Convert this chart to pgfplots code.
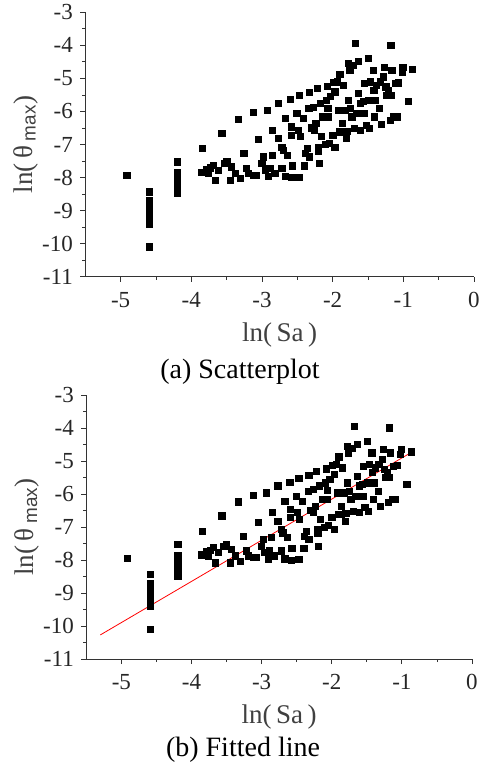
\documentclass[border=0pt]{standalone}
\usepackage{fontspec}
\setmainfont{Liberation Serif}
\setsansfont{Liberation Sans}
\usepackage{pgfplots}
\usepackage{pgfplotstable}
\pgfplotsset{compat=1.18}
\pgfplotstableread{
x y
-4.915 -7.94
-4.594 -8.43
-4.594 -8.70
-4.594 -8.82
-4.594 -9.02
-4.594 -9.15
-4.594 -9.28
-4.594 -9.40
-4.594 -10.09
-4.198 -7.52
-4.198 -7.85
-4.198 -7.97
-4.198 -8.10
-4.198 -8.22
-4.198 -8.34
-4.198 -8.48
-3.849 -7.12
-3.86 -7.84
-3.79 -7.75
-3.736 -7.70
-3.76 -7.87
-3.69 -7.62
-3.665 -8.08
-3.62 -7.77
-3.57 -6.66
-3.54 -7.57
-3.50 -7.52
-3.43 -7.67
-3.45 -8.08
-3.38 -7.87
-3.335 -6.23
-3.31 -8.03
-3.26 -7.27
-3.22 -7.72
-3.19 -7.87
-3.12 -6.03
-3.12 -7.92
-3.08 -7.92
-3.05 -6.85
-3.005 -7.57
-2.98 -7.37
-2.96 -7.77
-2.93 -5.96
-2.91 -7.96
-2.89 -7.72
-2.86 -7.32
-2.85 -6.56
-2.82 -7.87
-2.77 -5.75
-2.77 -6.82
-2.72 -7.07
-2.72 -7.72
-2.70 -7.17
-2.67 -6.21
-2.67 -7.96
-2.64 -7.32
-2.60 -5.63
-2.59 -6.46
-2.59 -6.71
-2.58 -8.0
-2.57 -7.64
-2.51 -6.06
-2.49 -6.56
-2.47 -5.52
-2.47 -7.98
-2.46 -6.76
-2.42 -6.21
-2.40 -7.64
-2.39 -7.27
-2.36 -7.12
-2.34 -5.91
-2.33 -5.42
-2.33 -7.37
-2.30 -6.49
-2.27 -5.86
-2.26 -6.56
-2.24 -6.36
-2.22 -5.30
-2.20 -7.19
-2.20 -7.07
-2.19 -7.57
-2.18 -5.75
-2.16 -6.76
-2.14 -6.16
-2.11 -7.00
-2.09 -5.66
-2.08 -5.23
-2.07 -5.89
-2.06 -6.16
-2.05 -6.95
-2.03 -5.55
-2.00 -6.71
-1.99 -5.12
-1.97 -7.07
-1.97 -5.40
-1.94 -5.10
-1.92 -5.96
-1.91 -6.61
-1.90 -4.87
-1.87 -6.61
-1.86 -6.36
-1.85 -5.20
-1.83 -5.96
-1.81 -6.82
-1.80 -6.59
-1.78 -4.54
-1.78 -5.66
-1.76 -4.75
-1.755 -5.91
-1.73 -6.16
-1.71 -4.61
-1.68 -3.94
-1.69 -6.51
-1.67 -6.06
-1.64 -5.45
-1.64 -4.49
-1.61 -6.56
-1.61 -5.75
-1.57 -5.70
-1.56 -6.06
-1.55 -5.15
-1.53 -6.41
-1.50 -4.39
-1.50 -5.66
-1.48 -6.51
-1.47 -5.10
-1.43 -4.75
-1.42 -5.35
-1.41 -6.16
-1.40 -5.66
-1.38 -5.20
-1.34 -5.91
-1.33 -5.10
-1.31 -6.38
-1.28 -4.95
-1.27 -4.65
-1.25 -5.25
-1.24 -5.50
-1.21 -5.35
-1.19 -6.26
-1.18 -3.99
-1.18 -5.50
-1.165 -4.75
-1.14 -6.16
-1.12 -5.15
-1.09 -6.16
-1.07 -5.13
-1.02 -4.80
-1.01 -4.65
-0.93 -5.70
-0.87 -4.72
}\scatterdata
\pgfplotsset{
  myaxis/.style={
    scale only axis,
    xmin=-5.5, xmax=0, ymin=-11, ymax=-3,
    axis x line*=bottom, axis y line*=left,
    axis line style={line width=1bp, black!80},
    xtick={-5,-4,-3,-2,-1,0},
    ytick={-11,-10,-9,-8,-7,-6,-5,-4,-3},
    minor x tick num=1, minor y tick num=1,
    tick align=outside,
    major tick length=5bp, minor tick length=3bp,
    tick style={line width=0.8bp, black!80},
    /pgf/number format/assume math mode=true,
    tick label style={font=\fontsize{23bp}{25bp}\selectfont, color=black!85},
    xticklabel style={yshift=-7bp},
    yticklabel style={xshift=-4bp},
    xlabel={ln(\,Sa\,)},
    ylabel={ln(\,θ\,\textsubscript{\sffamily max})},
    label style={font=\fontsize{27bp}{29bp}\selectfont, color=black!75},
    xlabel style={at={(axis description cs:0.5,0)}, anchor=center, yshift=-58bp},
    ylabel style={at={(axis description cs:-0.154,0.5)}, anchor=center},
  }
}
\begin{document}
\begin{tikzpicture}
\useasboundingbox (0,0) rectangle (481bp,-770bp);
\begin{axis}[myaxis, width=388.7bp, height=264.4bp,
  at={(85.3bp,-276.7bp)}, anchor=south west]
\addplot[only marks, mark=square*, mark size=3.1bp, black] table[x=x,y=y]{\scatterdata};
\end{axis}
\node at (240bp,-372bp) {\fontsize{28bp}{30bp}\selectfont (a) Scatterplot};
\begin{axis}[myaxis, width=385.7bp, height=264bp,
  at={(86.3bp,-659bp)}, anchor=south west]
\addplot[only marks, mark=square*, mark size=3.1bp, black] table[x=x,y=y]{\scatterdata};
\addplot[red, line width=0.8bp] coordinates {(-5.30,-10.27) (-0.85,-4.72)};
\end{axis}
\node at (243bp,-750bp) {\fontsize{28bp}{30bp}\selectfont (b) Fitted line};
\end{tikzpicture}
\end{document}
